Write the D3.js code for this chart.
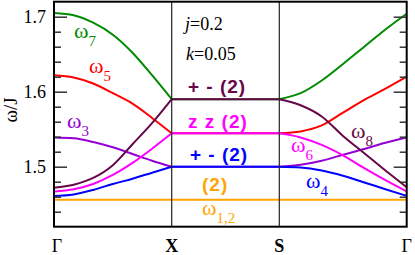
<!DOCTYPE html>
<html lang="en">
<head>
<meta charset="UTF-8">
<title>magnon bands</title>
<script src="https://d3js.org/d3.v7.min.js"></script>
<style>
  body { margin: 0; background: #fff; }
  .chart svg { display: block; }
  .serif, .serif text { font-family: "Liberation Serif", "Times New Roman", serif; }
  .sans, .sans text { font-family: "Liberation Sans", Arial, sans-serif; }
</style>
</head>
<body>
<div class="chart"></div>
<script>
// path positions along Γ - X - S - Γ
const kNodes = [0, 1, 2, 3]
const kNodeLabels = ['Γ', 'X', 'S', 'Γ']
const kPath = [0, 0.167, 0.333, 0.5, 0.667, 0.833, 1, 2, 2.167, 2.333, 2.5, 2.667, 2.833, 3]

// band energies omega/J
const w12 = [1.456, 1.456, 1.456, 1.456, 1.456, 1.456, 1.456, 1.456, 1.456, 1.456, 1.456, 1.456, 1.456, 1.456]
const w4 = [1.461, 1.463, 1.469, 1.477, 1.484, 1.492, 1.500, 1.500, 1.499, 1.495, 1.488, 1.479, 1.470, 1.461]
const w6 = [1.467, 1.470, 1.477, 1.489, 1.505, 1.524, 1.5445, 1.5445, 1.539, 1.529, 1.515, 1.498, 1.482, 1.467]
const w8 = [1.472, 1.476, 1.485, 1.502, 1.530, 1.558, 1.590, 1.590, 1.582, 1.567, 1.541, 1.518, 1.495, 1.4725]
const w3 = [1.539, 1.538, 1.533, 1.526, 1.517, 1.508, 1.500, 1.500, 1.5026, 1.508, 1.516, 1.5235, 1.532, 1.539]
const w5 = [1.622, 1.619, 1.611, 1.598, 1.584, 1.565, 1.5445, 1.5445, 1.547, 1.555, 1.572, 1.589, 1.604, 1.620]
const w7 = [1.705, 1.702, 1.692, 1.676, 1.652, 1.622, 1.590, 1.590, 1.598, 1.615, 1.637, 1.660, 1.683, 1.704]

const yMajor = [1.5, 1.6, 1.7]
const yMinor = [1.44, 1.46, 1.48, 1.52, 1.54, 1.56, 1.58, 1.62, 1.64, 1.66, 1.68]

const width = 415, height = 255
const svg = d3.select('.chart').append('svg')
  .attr('width', width)
  .attr('height', height)

const x = d3.scaleLinear().domain(kNodes).range([54, 171.7, 279.3, 406.7])
const y = d3.scaleLinear().domain([1.42, 1.72]).range([226.7, 1.7])

// bands, drawn back to front (degenerate flat parts end up in the front colour)
const bands = [
  { v: w7, c: '#008b00' },
  { v: w5, c: '#ff0000' },
  { v: w3, c: '#9400d3' },
  { v: w8, c: '#670748' },
  { v: w6, c: '#ff00ff' },
  { v: w4, c: '#0000ff' },
  { v: w12, c: '#ffa500' }
]
const segments = [[0, 7], [6, 8], [7, 14]]
const line = d3.line()
  .x(d => x(d[0]))
  .y(d => y(d[1]))
  .curve(d3.curveMonotoneX)

const g = svg.append('g')
bands.forEach(b => {
  segments.forEach(([s, e]) => {
    const pts = kPath.slice(s, e).map((k, i) => [k, b.v[s + i]])
    g.append('path')
      .attr('d', line(pts))
      .attr('fill', 'none')
      .attr('stroke', b.c)
      .attr('stroke-width', 2)
  })
})

// vertical lines at X and S
svg.append('g').selectAll('line')
  .data(kNodes.slice(1, 3))
  .enter().append('line')
  .attr('x1', d => x(d)).attr('x2', d => x(d))
  .attr('y1', y(1.72)).attr('y2', y(1.42))
  .attr('stroke', '#222').attr('stroke-width', 1.2)

// ticks
function ticks(axis, vals, size, labels) {
  const a = axis(y).tickValues(vals).tickSizeInner(-size).tickSizeOuter(0).tickPadding(8)
  a.tickFormat(labels ? d3.format('.1f') : '')
  return a
}
const left = svg.append('g').attr('transform', `translate(${x(0)},0)`)
left.append('g').call(ticks(d3.axisLeft, yMinor, 7, false))
left.append('g').attr('class', 'serif').call(ticks(d3.axisLeft, yMajor, 13, true))
const right = svg.append('g').attr('transform', `translate(${x(3)},0)`)
right.append('g').call(ticks(d3.axisRight, yMinor, 7, false))
right.append('g').call(ticks(d3.axisRight, yMajor, 13, false))
svg.selectAll('.domain').remove()
svg.selectAll('.tick line').attr('stroke', '#333').attr('stroke-width', 1.5)
left.selectAll('.serif').attr('font-family', null).attr('font-size', null)
left.selectAll('.tick text')
  .style('font-family', '"Liberation Serif", serif')
  .style('font-size', '18px')
  .attr('fill', '#000')

// frame
svg.append('rect')
  .attr('x', x(0)).attr('y', y(1.72))
  .attr('width', x(3) - x(0)).attr('height', y(1.42) - y(1.72))
  .attr('fill', 'none').attr('stroke', '#000').attr('stroke-width', 2)

// k-point labels
svg.append('g').attr('class', 'serif').selectAll('text')
  .data(kNodes)
  .enter().append('text')
  .attr('x', (d, i) => x(d) + (i === 0 ? 3 : 0))
  .attr('y', 252)
  .attr('text-anchor', 'middle')
  .style('font-size', '18px')
  .attr('font-weight', (d, i) => (i === 1 || i === 2) ? 'bold' : 'normal')
  .text((d, i) => kNodeLabels[i])

// y title
svg.append('text')
  .attr('class', 'serif')
  .attr('transform', 'translate(17,110) rotate(-90)')
  .attr('text-anchor', 'middle')
  .style('font-size', '19px')
  .text('ω/J')

// parameters
const par = svg.append('g').attr('class', 'serif').style('font-size', '18px')
const t1 = par.append('text').attr('x', 185).attr('y', 30)
t1.append('tspan').attr('font-style', 'italic').text('j')
t1.append('tspan').text('=0.2')
const t2 = par.append('text').attr('x', 186).attr('y', 60)
t2.append('tspan').attr('font-style', 'italic').text('k')
t2.append('tspan').text('=0.05')

// degeneracy labels in the X-S panel
const deg = [
  { t: '+ - (2)', c: '#670748', x: 188, y: 93 },
  { t: 'z z (2)', c: '#ff00ff', x: 188, y: 128 },
  { t: '+ - (2)', c: '#0000ff', x: 190, y: 161 },
  { t: '(2)', c: '#ffa500', x: 202, y: 191 }
]
svg.append('g').attr('class', 'sans').selectAll('text')
  .data(deg)
  .enter().append('text')
  .attr('x', d => d.x).attr('y', d => d.y)
  .attr('fill', d => d.c)
  .attr('font-weight', 'bold')
  .style('font-size', '19px')
  .attr('letter-spacing', 1)
  .style('white-space', 'pre')
  .text(d => d.t)

// band labels
const names = [
  { s: '7', c: '#008b00', x: 74, y: 38 },
  { s: '5', c: '#ff0000', x: 89, y: 73 },
  { s: '3', c: '#9400d3', x: 67, y: 128 },
  { s: '8', c: '#670748', x: 351, y: 138 },
  { s: '6', c: '#ff00ff', x: 291, y: 152 },
  { s: '4', c: '#0000ff', x: 306, y: 188 },
  { s: '1,2', c: '#ffa500', x: 202, y: 215 }
]
const nl = svg.append('g').attr('class', 'serif').selectAll('text')
  .data(names)
  .enter().append('text')
  .attr('x', d => d.x).attr('y', d => d.y)
  .attr('fill', d => d.c)
  .style('font-size', '22px')
nl.append('tspan').text('ω')
nl.append('tspan').attr('dy', 8).style('font-size', '15px').text(d => d.s)
</script>
</body>
</html>
